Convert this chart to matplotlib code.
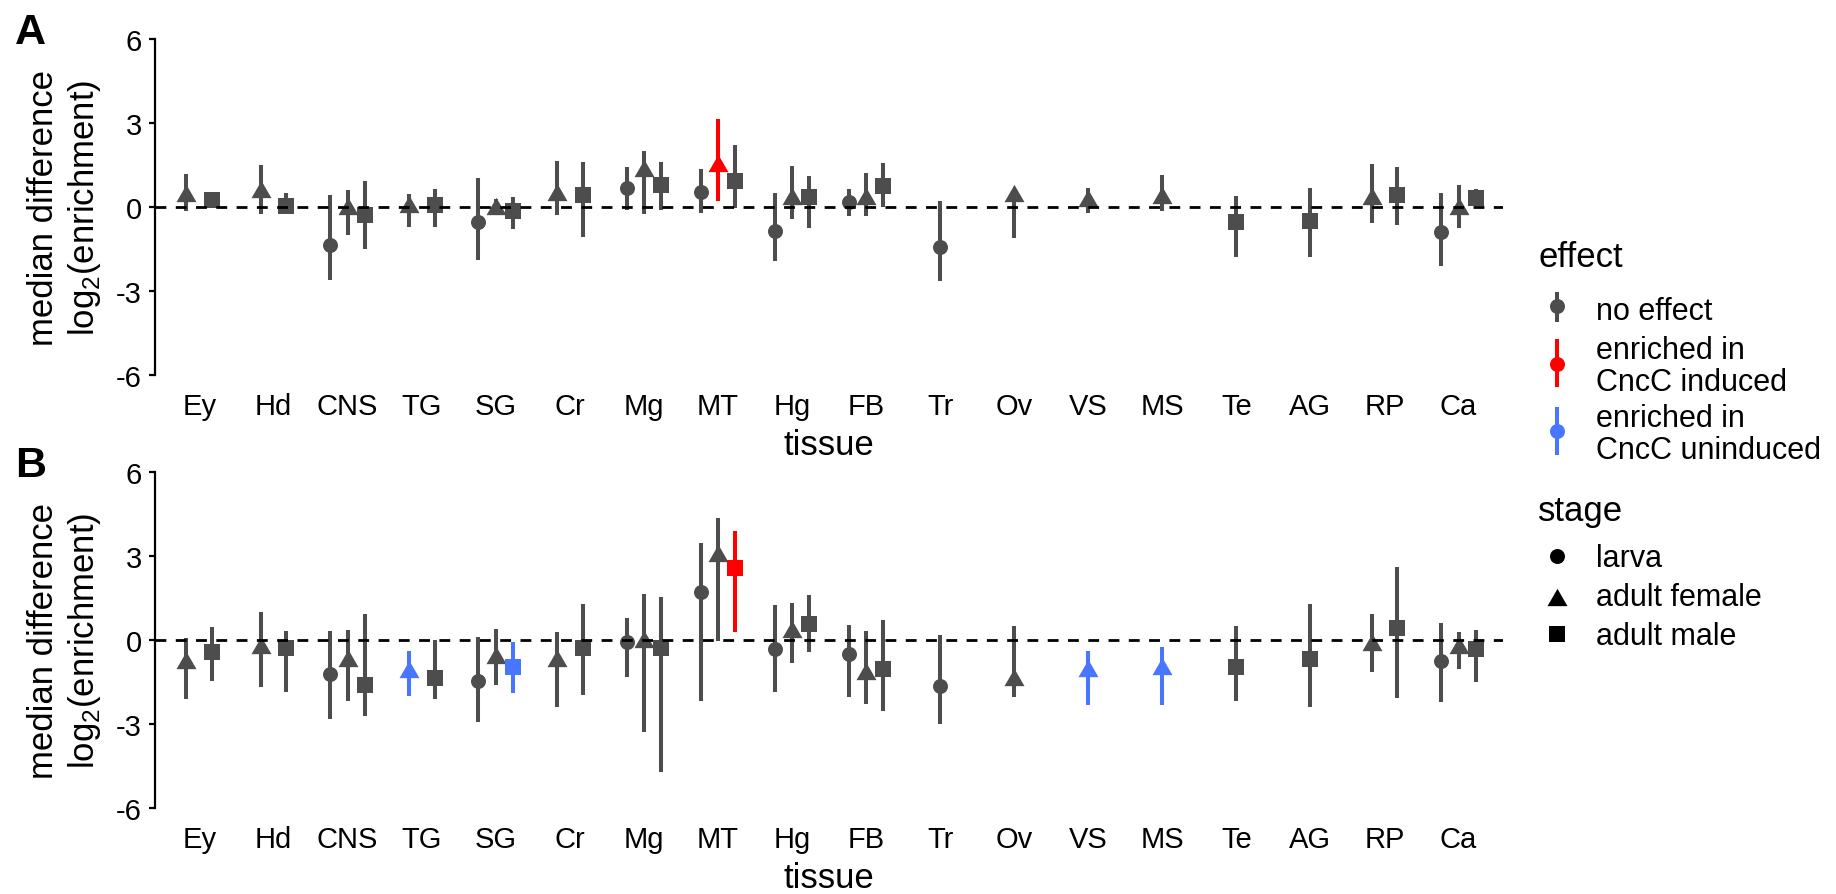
import matplotlib
matplotlib.use("Agg")
import matplotlib.pyplot as plt
from matplotlib.path import Path

plt.rcParams['font.family'] = ['Liberation Sans', 'DejaVu Sans']
plt.rcParams['axes.unicode_minus'] = False
plt.rcParams['mathtext.fontset'] = 'custom'
plt.rcParams['mathtext.rm'] = 'Liberation Sans'

tissues = ["Ey", "Hd", "CNS", "TG", "SG", "Cr", "Mg", "MT", "Hg", "FB",
           "Tr", "Ov", "VS", "MS", "Te", "AG", "RP", "Ca"]
stage_order = ["larva", "adult female", "adult male"]
effect_labels = ["no effect", "enriched in\nCncC induced", "enriched in\nCncC uninduced"]

# panel A
a_tissue = ["Ey", "Ey", "Hd", "Hd", "CNS", "CNS", "CNS", "TG", "TG", "SG", "SG", "SG",
            "Cr", "Cr", "Mg", "Mg", "Mg", "MT", "MT", "MT", "Hg", "Hg", "Hg",
            "FB", "FB", "FB", "Tr", "Ov", "VS", "MS", "Te", "AG", "RP", "RP",
            "Ca", "Ca", "Ca"]
a_stage = ["F", "M", "F", "M", "L", "F", "M", "F", "M", "L", "F", "M",
           "F", "M", "L", "F", "M", "L", "F", "M", "L", "F", "M",
           "L", "F", "M", "L", "F", "F", "F", "M", "M", "F", "M",
           "L", "F", "M"]
a_median = [0.49, 0.25, 0.66, 0.02, -1.36, 0.05, -0.29, 0.12, 0.07, -0.52, 0.05, -0.15,
            0.55, 0.44, 0.68, 1.38, 0.80, 0.52, 1.57, 0.94, -0.87, 0.40, 0.37,
            0.17, 0.40, 0.76, -1.44, 0.49, 0.32, 0.43, -0.52, -0.50, 0.40, 0.44,
            -0.90, 0.02, 0.31]
a_low = [-0.13, 0.15, -0.25, -0.25, -2.60, -1.00, -1.50, -0.73, -0.70, -1.90, -0.30, -0.79,
         -0.27, -1.07, -0.10, -0.25, -0.10, -0.23, 0.23, -0.04, -1.94, -0.43, -0.76,
         -0.31, -0.31, 0.00, -2.63, -1.10, -0.23, -0.15, -1.77, -1.80, -0.58, -0.64,
         -2.10, -0.76, 0.05]
a_high = [1.18, 0.35, 1.50, 0.50, 0.43, 0.62, 0.94, 0.46, 0.64, 1.04, 0.29, 0.35,
          1.63, 1.60, 1.42, 2.00, 1.62, 1.36, 3.14, 2.23, 0.50, 1.48, 1.12,
          0.63, 1.20, 1.56, 0.23, 0.60, 0.68, 1.14, 0.40, 0.68, 1.54, 1.42,
          0.49, 0.80, 0.64]
a_effect = ["none"] * 37
a_effect[18] = "induced"

# panel B
b_tissue = list(a_tissue)
b_stage = list(a_stage)
b_median = [-0.72, -0.44, -0.18, -0.30, -1.23, -0.66, -1.59, -1.05, -1.37, -1.45, -0.54, -0.98,
            -0.63, -0.30, -0.06, 0.02, -0.30, 1.73, 3.10, 2.56, -0.31, 0.38, 0.57,
            -0.51, -1.11, -1.04, -1.64, -1.31, -0.99, -0.92, -0.97, -0.68, -0.06, 0.42,
            -0.75, -0.18, -0.32]
b_low = [-2.10, -1.45, -1.69, -1.85, -2.82, -2.17, -2.70, -2.00, -2.09, -2.92, -1.61, -1.88,
         -2.38, -1.97, -1.31, -3.30, -4.71, -2.17, -0.04, 0.29, -1.87, -0.81, -0.42,
         -2.05, -2.29, -2.54, -3.00, -2.04, -2.32, -2.32, -2.18, -2.41, -1.13, -2.06,
         -2.23, -1.04, -1.51]
b_high = [0.08, 0.48, 0.99, 0.32, 0.32, 0.36, 0.92, -0.39, 0.00, 0.10, 0.38, -0.06,
          0.27, 1.28, 0.77, 1.63, 1.55, 3.48, 4.37, 3.90, 1.24, 1.31, 1.59,
          0.55, 0.31, 0.70, 0.17, 0.50, -0.38, -0.24, 0.49, 1.29, 0.92, 2.62,
          0.62, 0.27, 0.35]
b_effect = ["none"] * 37
b_effect[7] = "uninduced"
b_effect[11] = "uninduced"
b_effect[19] = "induced"
b_effect[28] = "uninduced"
b_effect[29] = "uninduced"

colors = {"none": "#4D4D4D", "induced": "#FF0000", "uninduced": "#4876FF"}
tri = Path([(0, 0.866), (-1, -0.866), (1, -0.866), (0, 0.866)], closed=True)
markers = {"L": ("o", 10.8), "F": (tri, 14.4), "M": ("s", 11.2)}
stage_code = {"larva": "L", "adult female": "F", "adult male": "M"}

W, H = 1836, 895
fig = plt.figure(figsize=(W / 100, H / 100), dpi=100)


def dodge(tis, stg, width=0.7):
    xs = []
    for t, s in zip(tis, stg):
        grp = [st for tt, st in zip(tis, stg) if tt == t]
        present = [c for c in "LFM" if c in grp]
        n = len(present)
        i = present.index(s)
        xs.append(tissues.index(t) + 1 + (i - (n - 1) / 2) * width / n)
    return xs


def panel(rect, tis, stg, med, lo, hi, eff):
    ax = fig.add_axes(rect)
    xs = dodge(tis, stg)
    for x, s, m, l, h, e in zip(xs, stg, med, lo, hi, eff):
        c = colors[e]
        ax.plot([x, x], [l, h], color=c, lw=2.9, solid_capstyle="butt", zorder=2)
        mk, ms = markers[s]
        ax.plot(x, m, marker=mk, ms=ms, color=c, mew=0, zorder=3)
    ax.axhline(0, color="black", lw=2, dashes=(3.9, 3.4), zorder=4)
    ax.set_xlim(0.4, 18.6)
    ax.set_ylim(-6, 6)
    ax.set_yticks([-6, -3, 0, 3, 6])
    ax.set_yticklabels(["-6", "-3", "0", "3", "6"])
    ax.set_xticks(range(1, len(tissues) + 1))
    ax.set_xticklabels(tissues)
    for sp in ["top", "right", "bottom"]:
        ax.spines[sp].set_visible(False)
    ax.spines["left"].set_linewidth(1.6)
    ax.tick_params(axis="y", length=4.3, width=1.6, pad=5, labelsize=21)
    ax.tick_params(axis="x", length=0, pad=12, labelsize=21)
    ax.patch.set_alpha(0)
    return ax


left, right = 155 / W, 1503 / W
axA = panel([left, 1 - 376 / H, right - left, 336 / H],
            a_tissue, a_stage, a_median, a_low, a_high, a_effect)
axB = panel([left, 1 - 809 / H, right - left, 336 / H],
            b_tissue, b_stage, b_median, b_low, b_high, b_effect)

# overlay in pixel coordinates for titles and legend
lg = fig.add_axes([0, 0, 1, 1])
lg.set_xlim(0, W)
lg.set_ylim(H, 0)
lg.axis("off")
lg.patch.set_visible(False)

cx = (155 + 1503) / 2
for top, bottom, letter in [(40, 376, "A"), (473, 809, "B")]:
    yc = (top + bottom) / 2
    lg.text(53, yc, "median difference", rotation=90, rotation_mode="anchor",
            ha="center", va="baseline", fontsize=25)
    lg.text(94, yc, r"log$_\mathregular{2}$(enrichment)", rotation=90,
            rotation_mode="anchor", ha="center", va="baseline", fontsize=25)
    lg.text(cx, bottom + 79, "tissue", ha="center", va="baseline", fontsize=25)
    lg.text(15, top - 27, letter, ha="left", va="top", fontsize=31, fontweight="bold")

# effect legend
kx, tx = 1557, 1596
lg.text(1538, 267, "effect", ha="left", va="baseline", fontsize=25)
eff_keys = [("none", 293, 323, 307, [(effect_labels[0], 320)]),
            ("induced", 340, 388, 365, [("enriched in", 359), ("CncC induced", 391)]),
            ("uninduced", 408, 456, 432, [("enriched in", 427), ("CncC uninduced", 459)])]
for e, y0, y1, yc, lines in eff_keys:
    lg.plot([kx, kx], [y0, y1], color=colors[e], lw=2.9, solid_capstyle="butt")
    lg.plot(kx, yc, marker="o", ms=10.8, color=colors[e], mew=0)
    for txt, yb in lines:
        lg.text(tx, yb, txt, ha="left", va="baseline", fontsize=22)

# stage legend
lg.text(1538, 521, "stage", ha="left", va="baseline", fontsize=25)
for st, yc, yb in [("larva", 557, 567), ("adult female", 598, 606), ("adult male", 635, 645)]:
    mk, ms = markers[stage_code[st]]
    lg.plot(kx, yc, marker=mk, ms=ms, color="black", mew=0)
    lg.text(tx, yb, st, ha="left", va="baseline", fontsize=22)

fig.savefig("out.png", dpi=100, facecolor="white")
